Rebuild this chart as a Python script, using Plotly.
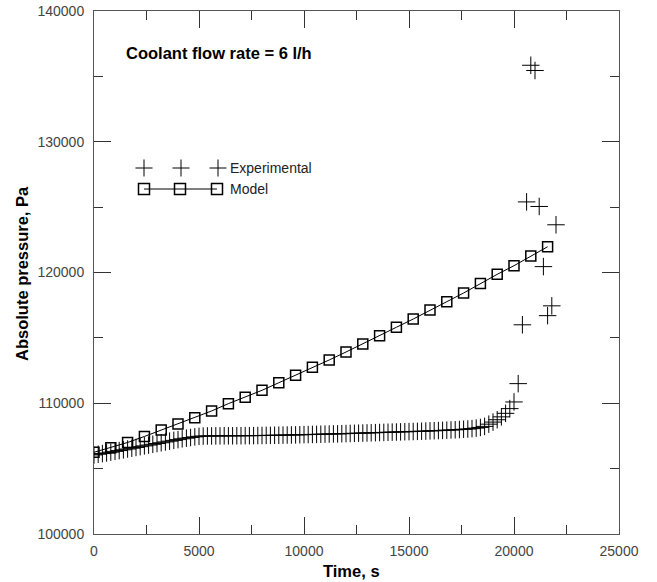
import plotly.graph_objects as go

# ---------------- data ----------------
model_time = [0, 800, 1600, 2400, 3200, 4000, 4800, 5600, 6400, 7200, 8000, 8800, 9600, 10400,
              11200, 12000, 12800, 13600, 14400, 15200, 16000, 16800, 17600, 18400, 19200,
              20000, 20800, 21600]
model_pressure = [106250, 106600, 107000, 107460, 107950, 108410, 108900, 109410, 109970, 110450,
                  110990, 111570, 112140, 112750, 113310, 113920, 114530, 115170, 115810, 116440,
                  117130, 117770, 118430, 119150, 119860, 120520, 121260, 121970]

exp_time = [0, 200, 400, 600, 800, 1000, 1200, 1400, 1600, 1800,
            2000, 2200, 2400, 2600, 2800, 3000, 3200, 3400, 3600, 3800,
            4000, 4200, 4400, 4600, 4800, 5000, 5200, 5400, 5600, 5800,
            6000, 6200, 6400, 6600, 6800, 7000, 7200, 7400, 7600, 7800,
            8000, 8200, 8400, 8600, 8800, 9000, 9200, 9400, 9600, 9800,
            10000, 10200, 10400, 10600, 10800, 11000, 11200, 11400, 11600, 11800,
            12000, 12200, 12400, 12600, 12800, 13000, 13200, 13400, 13600, 13800,
            14000, 14200, 14400, 14600, 14800, 15000, 15200, 15400, 15600, 15800,
            16000, 16200, 16400, 16600, 16800, 17000, 17200, 17400, 17600, 17800,
            18000, 18200, 18400, 18600, 18800, 19000, 19200, 19400, 19600, 19800,
            20000, 20200, 20400, 20600, 20800, 21000, 21200, 21400, 21600, 21800,
            22000]
exp_pressure = [106050, 106100, 106150, 106200, 106260, 106320, 106380, 106440, 106500, 106560,
                106620, 106680, 106740, 106800, 106860, 106920, 106980, 107040, 107100, 107160,
                107220, 107280, 107330, 107380, 107430, 107470, 107490, 107500, 107500, 107505,
                107505, 107510, 107510, 107510, 107515, 107515, 107520, 107520, 107525, 107530,
                107535, 107540, 107545, 107550, 107555, 107560, 107570, 107575, 107580, 107590,
                107600, 107605, 107615, 107620, 107630, 107640, 107645, 107655, 107660, 107670,
                107680, 107690, 107700, 107710, 107720, 107730, 107740, 107750, 107760, 107770,
                107780, 107790, 107800, 107810, 107820, 107830, 107840, 107850, 107860, 107870,
                107890, 107900, 107910, 107925, 107940, 107955, 107970, 107990, 108010, 108030,
                108060, 108100, 108150, 108230, 108400, 108560, 108740, 108960, 109230, 109590,
                110100, 111500, 116000, 125400, 135850, 135450, 125050, 120450, 116700, 117450,
                123650]

x_ticks = [0, 5000, 10000, 15000, 20000, 25000]
y_ticks = [100000, 110000, 120000, 130000, 140000]

# ---------------- layout geometry ----------------
W, H = 657, 582
L, R, T, B = 94, 619, 11, 534
PW, PH = R - L, B - T
FONT = "Liberation Sans, Arial, sans-serif"


def px(xp):
    return (xp - L) / PW


def py(yp):
    return (B - yp) / PH


fig = go.Figure()

fig.add_trace(go.Scatter(
    x=model_time, y=model_pressure, mode="lines+markers", name="Model",
    line=dict(color="black", width=1),
    marker=dict(symbol="square-open", size=10, color="black", line=dict(width=1.5, color="black")),
    showlegend=False,
))
fig.add_trace(go.Scatter(
    x=exp_time, y=exp_pressure, mode="markers", name="Experimental",
    marker=dict(symbol="cross-thin", size=12.5, color="black", line=dict(width=1, color="black")),
    showlegend=False,
))

axis_common = dict(
    showgrid=False, zeroline=False, showline=True, linecolor="#555", linewidth=1,
    mirror="ticks", ticks="inside", ticklen=17, tickwidth=1, tickcolor="#333",
    tickfont=dict(family=FONT, size=14, color="#444"), automargin=False,
)

fig.update_xaxes(range=[0, 25000], tickvals=x_ticks, ticktext=[str(v) for v in x_ticks],
                 minor=dict(dtick=2500, ticks="inside", ticklen=9, tickcolor="#333", tickwidth=1),
                 ticklabelstandoff=4, **axis_common)
fig.update_yaxes(range=[100000, 140000], tickvals=y_ticks, ticktext=[str(v) for v in y_ticks],
                 minor=dict(dtick=5000, ticks="inside", ticklen=9, tickcolor="#333", tickwidth=1),
                 ticklabelstandoff=6, **axis_common)

# ---------------- custom legend (layout decoration) ----------------
shapes = []
cross_half = 8.5
for cx in [144, 181, 218]:
    cy = 168
    shapes.append(dict(type="line", xref="paper", yref="paper",
                       x0=px(cx - cross_half), x1=px(cx + cross_half), y0=py(cy), y1=py(cy),
                       line=dict(color="black", width=1)))
    shapes.append(dict(type="line", xref="paper", yref="paper",
                       x0=px(cx), x1=px(cx), y0=py(cy - cross_half), y1=py(cy + cross_half),
                       line=dict(color="black", width=1)))
shapes.append(dict(type="line", xref="paper", yref="paper",
                   x0=px(144), x1=px(217), y0=py(189), y1=py(189),
                   line=dict(color="black", width=1)))
for cx in [144, 180, 217]:
    cy = 189
    shapes.append(dict(type="rect", xref="paper", yref="paper",
                       x0=px(cx - 5.5), x1=px(cx + 5.5), y0=py(cy - 5.5), y1=py(cy + 5.5),
                       line=dict(color="black", width=1.5), fillcolor="rgba(0,0,0,0)"))

annotations = [
    dict(text="Experimental", xref="paper", yref="paper", x=px(228), y=py(168),
         xanchor="left", yanchor="middle", showarrow=False,
         font=dict(family=FONT, size=14, color="#222")),
    dict(text="Model", xref="paper", yref="paper", x=px(228), y=py(189),
         xanchor="left", yanchor="middle", showarrow=False,
         font=dict(family=FONT, size=14, color="#222")),
    dict(text="<b>Coolant flow rate = 6 l/h</b>", xref="paper", yref="paper", x=px(124), y=py(53),
         xanchor="left", yanchor="middle", showarrow=False,
         font=dict(family=FONT, size=16.5, color="black")),
    dict(text="<b>Time, s</b>", xref="paper", yref="paper", x=px(351), y=py(571),
         xanchor="center", yanchor="middle", showarrow=False,
         font=dict(family=FONT, size=16.5, color="black")),
    dict(text="<b>Absolute pressure, Pa</b>", xref="paper", yref="paper", x=px(22), y=py(274),
         xanchor="center", yanchor="middle", showarrow=False, textangle=-90,
         font=dict(family=FONT, size=16.5, color="black")),
]

fig.update_layout(
    width=W, height=H,
    margin=dict(l=L, r=W - R, t=T, b=H - B, pad=0, autoexpand=False),
    paper_bgcolor="white", plot_bgcolor="white",
    font=dict(family=FONT, size=14, color="#444"),
    shapes=shapes, annotations=annotations,
    showlegend=False,
)

# remove the browser's default 8px body margin so the figure fills the window exactly
fig.write_html("out.html",
               config={"displayModeBar": False},
               post_script="document.body.style.margin='0px';document.body.style.overflow='hidden';")
